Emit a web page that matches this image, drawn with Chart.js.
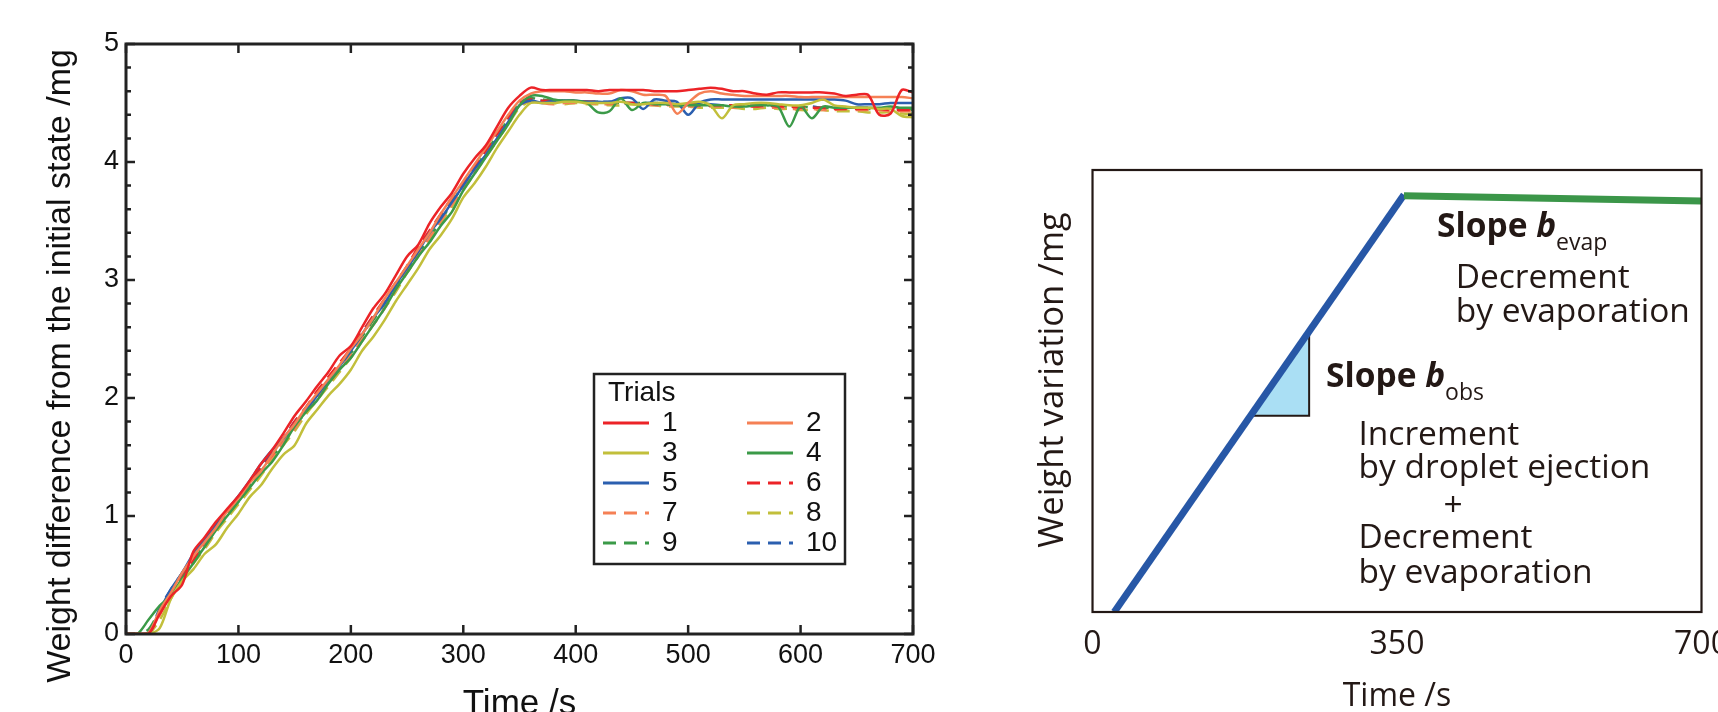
<!DOCTYPE html>
<html>
<head>
<meta charset="utf-8">
<script src="https://cdn.jsdelivr.net/npm/chart.js@4.4.1/dist/chart.umd.min.js"></script>
<style>
  html, body { margin: 0; padding: 0; background: #fff; overflow: hidden; }
  #trialsChart { position: absolute; left: 0; top: 0; }
  #schemeChart { position: absolute; left: 980px; top: 0; }
</style>
</head>
<body>
<canvas id="trialsChart" width="960" height="712"></canvas>
<canvas id="schemeChart" width="738" height="712"></canvas>
<script>
const times = [0, 10, 20, 30, 40, 50, 60, 70, 80, 90,
  100, 110, 120, 130, 140, 150, 160, 170, 180, 190,
  200, 210, 220, 230, 240, 250, 260, 270, 280, 290,
  300, 310, 320, 330, 340, 350, 360, 370, 380, 390,
  400, 410, 420, 430, 440, 450, 460, 470, 480, 490,
  500, 510, 520, 530, 540, 550, 560, 570, 580, 590,
  600, 610, 620, 630, 640, 650, 660, 670, 680, 690,
  700];

const trial1 = [0, 0, 0, 0.17, 0.32, 0.42, 0.7, 0.82, 0.95, 1.06,
  1.17, 1.3, 1.44, 1.56, 1.7, 1.85, 1.97, 2.1, 2.22, 2.36,
  2.44, 2.6, 2.76, 2.88, 3.04, 3.2, 3.3, 3.48, 3.62, 3.74,
  3.9, 4.03, 4.14, 4.3, 4.46, 4.56, 4.63, 4.61, 4.61, 4.61,
  4.61, 4.61, 4.6, 4.61, 4.61, 4.61, 4.61, 4.6, 4.6, 4.6,
  4.61, 4.62, 4.63, 4.62, 4.6, 4.6, 4.58, 4.57, 4.59, 4.59,
  4.59, 4.59, 4.59, 4.58, 4.56, 4.57, 4.57, 4.4, 4.41, 4.61,
  4.59];
const trial2 = [0, 0, 0.01, 0.2, 0.35, 0.52, 0.66, 0.78, 0.9, 1.04,
  1.15, 1.28, 1.38, 1.52, 1.66, 1.78, 1.92, 2.04, 2.16, 2.28,
  2.42, 2.54, 2.68, 2.84, 2.98, 3.12, 3.26, 3.4, 3.56, 3.7,
  3.84, 3.98, 4.12, 4.26, 4.4, 4.52, 4.58, 4.6, 4.6, 4.6,
  4.59, 4.59, 4.58, 4.58, 4.61, 4.6, 4.57, 4.57, 4.56, 4.41,
  4.5, 4.58, 4.6, 4.58, 4.57, 4.56, 4.56, 4.56, 4.56, 4.56,
  4.55, 4.55, 4.55, 4.55, 4.55, 4.55, 4.55, 4.55, 4.55, 4.55,
  4.54];
const trial3 = [0, 0, 0, 0.05, 0.3, 0.45, 0.55, 0.68, 0.76, 0.9,
  1.02, 1.16, 1.26, 1.4, 1.52, 1.6, 1.78, 1.9, 2.02, 2.12,
  2.24, 2.4, 2.52, 2.66, 2.82, 2.96, 3.1, 3.26, 3.38, 3.52,
  3.7, 3.82, 3.96, 4.12, 4.26, 4.4, 4.5, 4.5, 4.5, 4.51,
  4.51, 4.5, 4.5, 4.5, 4.51, 4.49, 4.49, 4.5, 4.5, 4.49,
  4.5, 4.51, 4.48, 4.37, 4.48, 4.49, 4.5, 4.5, 4.49, 4.48,
  4.48, 4.5, 4.53, 4.48, 4.47, 4.46, 4.46, 4.45, 4.45, 4.39,
  4.38];
const trial4 = [0, 0, 0.12, 0.24, 0.33, 0.47, 0.6, 0.74, 0.88, 1.0,
  1.12, 1.24, 1.36, 1.46, 1.6, 1.76, 1.88, 1.98, 2.12, 2.24,
  2.34, 2.48, 2.62, 2.76, 2.92, 3.06, 3.2, 3.32, 3.46, 3.58,
  3.76, 3.9, 4.04, 4.18, 4.32, 4.48, 4.56, 4.56, 4.53, 4.52,
  4.52, 4.5, 4.42, 4.43, 4.54, 4.44, 4.5, 4.49, 4.49, 4.48,
  4.48, 4.48, 4.48, 4.48, 4.47, 4.47, 4.48, 4.48, 4.47, 4.3,
  4.47, 4.37, 4.47, 4.46, 4.46, 4.46, 4.46, 4.46, 4.47, 4.46,
  4.46];
const trial5 = [0, 0, 0, 0.2, 0.38, 0.52, 0.68, 0.8, 0.92, 1.05,
  1.17, 1.3, 1.44, 1.56, 1.66, 1.78, 1.9, 2.02, 2.15, 2.27,
  2.4, 2.54, 2.68, 2.8, 2.96, 3.1, 3.24, 3.4, 3.52, 3.66,
  3.8, 3.94, 4.06, 4.2, 4.34, 4.48, 4.52, 4.5, 4.52, 4.52,
  4.52, 4.51, 4.51, 4.51, 4.54, 4.54, 4.45, 4.53, 4.52, 4.51,
  4.4, 4.5, 4.53, 4.53, 4.53, 4.53, 4.53, 4.53, 4.53, 4.53,
  4.53, 4.53, 4.53, 4.53, 4.52, 4.49, 4.49, 4.49, 4.5, 4.5,
  4.5];
const trial6 = [0, 0, 0, 0.18, 0.36, 0.5, 0.62, 0.78, 0.92, 1.04,
  1.16, 1.28, 1.4, 1.52, 1.66, 1.8, 1.92, 2.06, 2.18, 2.3,
  2.42, 2.56, 2.7, 2.84, 2.98, 3.12, 3.28, 3.42, 3.56, 3.7,
  3.82, 3.96, 4.1, 4.24, 4.38, 4.5, 4.53, 4.52, 4.52, 4.51,
  4.52, 4.51, 4.51, 4.5, 4.5, 4.5, 4.5, 4.49, 4.49, 4.49,
  4.49, 4.48, 4.48, 4.48, 4.48, 4.48, 4.47, 4.48, 4.47, 4.47,
  4.46, 4.46, 4.46, 4.45, 4.45, 4.45, 4.45, 4.45, 4.44, 4.44,
  4.44];
const trial7 = [0, 0, 0, 0.16, 0.34, 0.48, 0.64, 0.74, 0.88, 1.02,
  1.14, 1.24, 1.38, 1.5, 1.62, 1.74, 1.88, 2.0, 2.12, 2.24,
  2.36, 2.5, 2.62, 2.76, 2.92, 3.08, 3.22, 3.36, 3.5, 3.64,
  3.78, 3.92, 4.06, 4.2, 4.34, 4.48, 4.52, 4.5, 4.49, 4.5,
  4.5, 4.5, 4.49, 4.49, 4.5, 4.5, 4.49, 4.48, 4.48, 4.48,
  4.47, 4.47, 4.47, 4.47, 4.46, 4.47, 4.47, 4.46, 4.46, 4.45,
  4.45, 4.45, 4.44, 4.44, 4.45, 4.44, 4.44, 4.44, 4.43, 4.43,
  4.43];
const trial8 = [0, 0, 0, 0.12, 0.3, 0.46, 0.6, 0.72, 0.86, 0.98,
  1.1, 1.22, 1.34, 1.48, 1.6, 1.72, 1.86, 1.98, 2.1, 2.22,
  2.34, 2.48, 2.62, 2.76, 2.9, 3.06, 3.2, 3.34, 3.48, 3.62,
  3.76, 3.9, 4.04, 4.18, 4.32, 4.46, 4.51, 4.5, 4.5, 4.49,
  4.5, 4.49, 4.49, 4.48, 4.48, 4.49, 4.48, 4.48, 4.47, 4.47,
  4.47, 4.46, 4.46, 4.46, 4.46, 4.45, 4.45, 4.46, 4.45, 4.45,
  4.44, 4.44, 4.44, 4.43, 4.43, 4.43, 4.42, 4.42, 4.42, 4.41,
  4.41];
const trial9 = [0, 0, 0.04, 0.2, 0.34, 0.5, 0.62, 0.76, 0.88, 1.02,
  1.12, 1.26, 1.38, 1.5, 1.62, 1.76, 1.88, 2.02, 2.14, 2.26,
  2.38, 2.52, 2.66, 2.8, 2.94, 3.08, 3.22, 3.36, 3.5, 3.66,
  3.8, 3.94, 4.08, 4.22, 4.36, 4.5, 4.54, 4.53, 4.52, 4.52,
  4.51, 4.51, 4.51, 4.5, 4.5, 4.5, 4.5, 4.5, 4.49, 4.49,
  4.49, 4.49, 4.48, 4.48, 4.48, 4.48, 4.48, 4.48, 4.47, 4.47,
  4.47, 4.46, 4.46, 4.46, 4.46, 4.45, 4.45, 4.45, 4.45, 4.45,
  4.44];
const trial10 = [0, 0, 0, 0.22, 0.38, 0.52, 0.66, 0.78, 0.92, 1.04,
  1.16, 1.28, 1.42, 1.54, 1.66, 1.8, 1.92, 2.04, 2.16, 2.28,
  2.4, 2.54, 2.68, 2.82, 2.96, 3.1, 3.26, 3.4, 3.54, 3.68,
  3.82, 3.96, 4.1, 4.24, 4.38, 4.5, 4.53, 4.52, 4.52, 4.52,
  4.51, 4.51, 4.51, 4.51, 4.5, 4.5, 4.5, 4.5, 4.5, 4.49,
  4.49, 4.49, 4.49, 4.48, 4.48, 4.48, 4.48, 4.48, 4.47, 4.47,
  4.47, 4.47, 4.46, 4.46, 4.46, 4.46, 4.46, 4.45, 4.45, 4.45,
  4.45];

const trialNames = ['1', '2', '3', '4', '5', '6', '7', '8', '9', '10'];
const trialValues = [trial1, trial2, trial3, trial4, trial5, trial6, trial7, trial8, trial9, trial10];

// schematic (right panel)
const schemeTicks = [0, 350, 700];
const obsTimes = [25, 358];
const obsValues = [0, 4.72];
const evapTimes = [358, 700];
const evapValues = [4.71, 4.65];
const triTimes = [182, 249, 249, 182];
const triValues = [2.22, 3.17, 2.22, 2.22];

// --- STYLE ---
const trialColors = ['#ec2327', '#f58055', '#c2bf3b', '#3b9a48', '#2b5faf',
                     '#ec2327', '#f58055', '#c2bf3b', '#3b9a48', '#2b5faf'];
const trialDashed = [false, false, false, false, false, true, true, true, true, true];
const ARIAL = '"Liberation Sans", Arial, sans-serif';
const MYRIAD = '"Open Sans", "Noto Sans", sans-serif';
const INK = '#231815';

// frame + inward ticks on all four sides of the left plot
const frameTicks = {
    id: 'frameTicks',
    afterDatasetsDraw(chart) {
        const { ctx, chartArea: a, scales } = chart;
        const x = scales.x, y = scales.y;
        ctx.save();
        ctx.strokeStyle = '#222';
        ctx.lineWidth = 2.5;
        ctx.beginPath();
        x.ticks.forEach(t => {
            const px = x.getPixelForValue(t.value);
            ctx.moveTo(px, a.bottom); ctx.lineTo(px, a.bottom - 9);
            ctx.moveTo(px, a.top); ctx.lineTo(px, a.top + 9);
        });
        y.ticks.forEach(t => {
            const py = y.getPixelForValue(t.value);
            const len = Math.abs(t.value - Math.round(t.value)) < 1e-6 ? 9 : 5;
            ctx.moveTo(a.left, py); ctx.lineTo(a.left + len, py);
            ctx.moveTo(a.right, py); ctx.lineTo(a.right - len, py);
        });
        ctx.stroke();
        ctx.lineWidth = 3;
        ctx.strokeRect(a.left, a.top, a.right - a.left, a.bottom - a.top);
        ctx.restore();
    }
};

// boxed "Trials" legend in two columns
const trialsLegend = {
    id: 'trialsLegend',
    afterDraw(chart) {
        const ctx = chart.ctx;
        ctx.save();
        ctx.strokeStyle = '#222';
        ctx.lineWidth = 2.5;
        ctx.strokeRect(594, 374, 251, 190);
        ctx.fillStyle = '#111';
        ctx.font = '28px ' + ARIAL;
        ctx.textBaseline = 'middle';
        ctx.textAlign = 'left';
        ctx.fillText('Trials', 608, 393);
        chart.data.datasets.forEach((ds, i) => {
            const col = i % 2, row = Math.floor(i / 2);
            const x0 = col === 0 ? 603 : 747;
            const yy = 423 + row * 30;
            ctx.strokeStyle = ds.borderColor;
            ctx.lineWidth = 3;
            ctx.setLineDash(ds.borderDash || []);
            ctx.beginPath();
            ctx.moveTo(x0, yy); ctx.lineTo(x0 + 46, yy);
            ctx.stroke();
            ctx.setLineDash([]);
            ctx.fillText(ds.label, x0 + 59, yy);
        });
        ctx.restore();
    }
};

new Chart(document.getElementById('trialsChart'), {
    type: 'line',
    data: {
        labels: times,
        datasets: trialValues.map((vals, i) => ({
            label: trialNames[i],
            data: vals,
            borderColor: trialColors[i],
            borderWidth: 2.5,
            borderDash: trialDashed[i] ? [13, 8] : [],
            pointRadius: 0,
            tension: 0.3,
            fill: false
        }))
    },
    options: {
        responsive: false,
        animation: false,
        devicePixelRatio: 1,
        layout: { padding: { top: 20, right: 47, bottom: 0, left: 0 } },
        plugins: {
            legend: { display: false },
            tooltip: { enabled: false },
            title: {
                display: true,
                position: 'left',
                text: 'Weight difference from the initial state /mg',
                color: '#111',
                font: { family: ARIAL, size: 34, weight: 'normal' },
                padding: { top: 40.6, bottom: 0 }
            }
        },
        scales: {
            x: {
                type: 'linear',
                min: 0, max: 700,
                ticks: { stepSize: 100, color: '#111', font: { family: ARIAL, size: 27 }, padding: 5, maxRotation: 0 },
                grid: { display: false, drawTicks: false },
                border: { display: false },
                title: { display: true, text: 'Time /s', color: '#111', font: { family: ARIAL, size: 35 }, padding: { top: 0, bottom: -13.5 } },
                afterFit(s) { s.height = 78; }
            },
            xTop: {
                type: 'linear',
                position: 'top',
                min: 0, max: 700,
                ticks: { display: false },
                grid: { display: false, drawTicks: false },
                border: { display: false },
                afterFit(s) { s.height = 24; }
            },
            y: {
                min: 0, max: 5,
                ticks: {
                    stepSize: 0.2,
                    autoSkip: false,
                    color: '#111',
                    font: { family: ARIAL, size: 27 },
                    padding: 7,
                    callback: v => Math.abs(v - Math.round(v)) < 1e-6 ? String(Math.round(v)) : ''
                },
                grid: { display: false, drawTicks: false },
                border: { display: false },
                afterFit(s) { s.width = 44.6; }
            }
        }
    },
    plugins: [frameTicks, trialsLegend]
});

// --- RIGHT: schematic ---
const schemeFrame = {
    id: 'schemeFrame',
    afterDatasetsDraw(chart) {
        const { ctx, chartArea: a, scales: { x, y } } = chart;
        ctx.save();
        ctx.strokeStyle = INK;
        ctx.lineWidth = 2.2;
        ctx.strokeRect(a.left, a.top, a.right - a.left, a.bottom - a.top);

        ctx.fillStyle = INK;
        ctx.textBaseline = 'alphabetic';
        ctx.textAlign = 'left';
        const slope = (tx, ty, sub) => {
            let px = x.getPixelForValue(tx), py = y.getPixelForValue(ty);
            ctx.font = 'bold 33.5px ' + MYRIAD;
            ctx.fillText('Slope ', px, py);
            px += ctx.measureText('Slope ').width;
            ctx.font = 'italic bold 33.5px ' + MYRIAD;
            ctx.fillText('b', px, py);
            px += ctx.measureText('b').width;
            ctx.font = '23px ' + MYRIAD;
            ctx.fillText(sub, px, py + 13);
        };
        const line = (txt, tx, ty) => {
            ctx.font = '33.5px ' + MYRIAD;
            ctx.fillText(txt, x.getPixelForValue(tx), y.getPixelForValue(ty));
        };
        slope(396, 4.246, 'evap');
        line('Decrement', 417.4, 3.662);
        line('by evaporation', 417.4, 3.284);
        slope(268.4, 2.549, 'obs');
        line('Increment', 305.7, 1.889);
        line('by droplet ejection', 305.7, 1.512);
        ctx.textAlign = 'center';
        ctx.textBaseline = 'middle';
        ctx.font = '33.5px ' + MYRIAD;
        ctx.fillText('+', x.getPixelForValue(414.4), y.getPixelForValue(1.199));
        ctx.textAlign = 'left';
        ctx.textBaseline = 'alphabetic';
        line('Decrement', 305.7, 0.72);
        line('by evaporation', 305.7, 0.331);
        ctx.restore();
    }
};

const toPoints = (xs, ys) => xs.map((v, i) => ({ x: v, y: ys[i] }));

new Chart(document.getElementById('schemeChart'), {
    type: 'line',
    data: {
        datasets: [
            { label: 'evap', data: toPoints(evapTimes, evapValues), borderColor: '#3b9649', borderWidth: 7, pointRadius: 0, tension: 0, order: 0 },
            { label: 'obs', data: toPoints(obsTimes, obsValues), borderColor: '#2757a6', borderWidth: 7, pointRadius: 0, tension: 0, order: 0 },
            { label: 'triangle', data: toPoints(triTimes, triValues), borderColor: INK, borderWidth: 2, backgroundColor: '#aadff4', fill: 'shape', pointRadius: 0, tension: 0, order: 1 }
        ]
    },
    options: {
        responsive: false,
        animation: false,
        devicePixelRatio: 1,
        layout: { padding: { top: 48, right: 16.5, bottom: 0, left: 0 } },
        plugins: {
            legend: { display: false },
            tooltip: { enabled: false },
            title: {
                display: true,
                position: 'left',
                text: 'Weight variation /mg',
                color: INK,
                font: { family: MYRIAD, size: 34.6, weight: 'normal' },
                padding: { top: 52.25, bottom: 18.75 }
            }
        },
        scales: {
            x: {
                type: 'linear',
                min: 0, max: 700,
                afterBuildTicks(s) { s.ticks = schemeTicks.map(v => ({ value: v })); },
                ticks: { color: INK, font: { family: MYRIAD, size: 32 }, padding: 14, maxRotation: 0 },
                grid: { display: false, drawTicks: false },
                border: { display: false },
                title: { display: true, text: 'Time /s', color: INK, font: { family: MYRIAD, size: 32 }, padding: { top: 0, bottom: -3.7 } },
                afterFit(s) { s.height = 100; s.paddingLeft = 0; s.paddingRight = 0; }
            },
            xTop: {
                type: 'linear',
                position: 'top',
                min: 0, max: 700,
                ticks: { display: false },
                grid: { display: false, drawTicks: false },
                border: { display: false },
                afterFit(s) { s.height = 122; s.paddingLeft = 0; s.paddingRight = 0; }
            },
            y: { display: false, min: 0, max: 5 }
        }
    },
    plugins: [schemeFrame]
});
</script>
</body>
</html>
